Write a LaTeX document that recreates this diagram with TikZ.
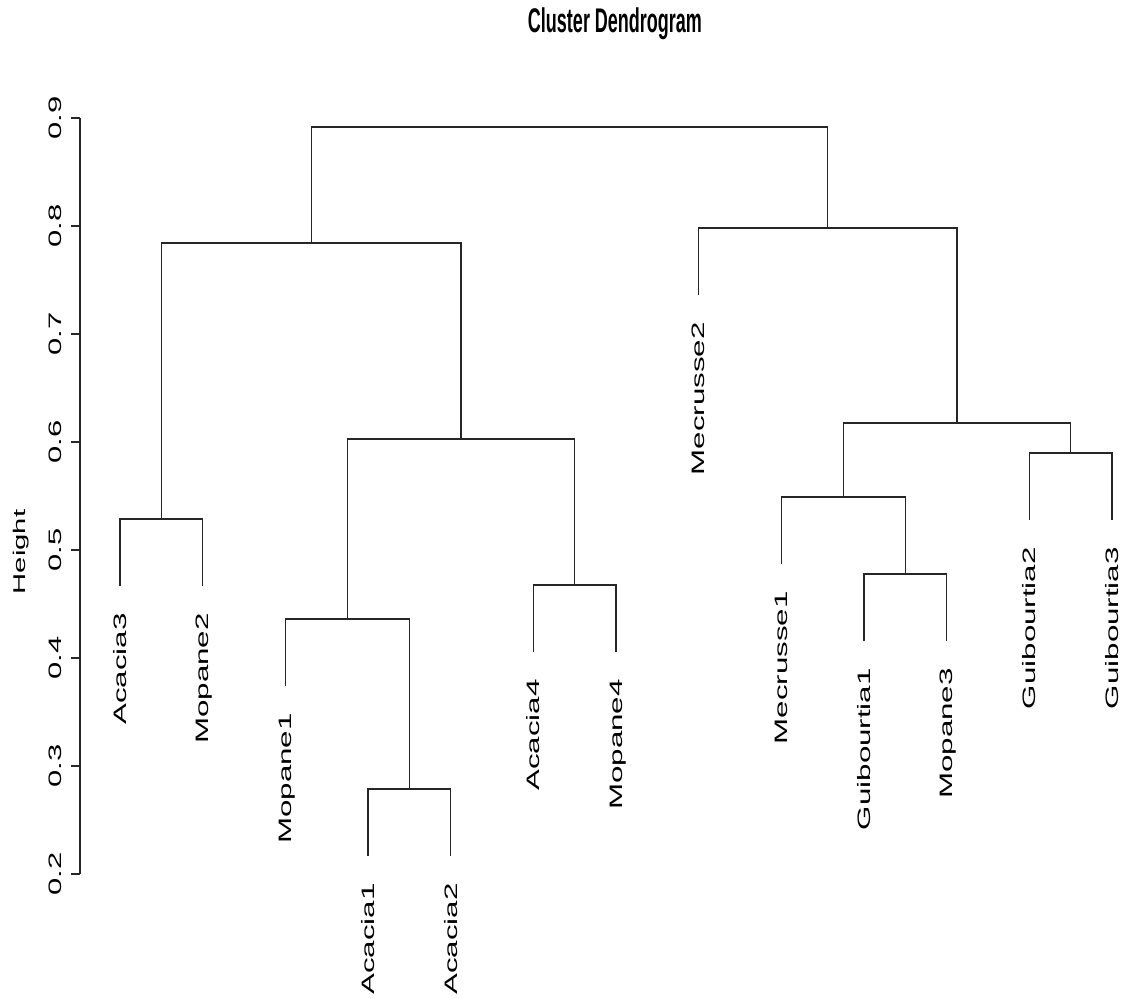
\documentclass[tikz,border=0pt]{standalone}
\usepackage{fontspec}
\setmainfont{Liberation Sans}
\newcommand{\stretchlab}[2]{\rotatebox{90}{\scalebox{#1}[1]{\raisebox{0pt}[\height][0pt]{#2}}}}
\begin{document}
\begin{tikzpicture}[x=1pt,y=-1pt,
  tree/.style={line width=1.3pt,draw=black!85},
  axisline/.style={line width=1.2pt,draw=black!85},
  leaflab/.style={inner sep=0pt,anchor=north,font=\fontsize{18}{20}\selectfont},
  ticklab/.style={inner sep=0pt,anchor=center,font=\fontsize{18}{20}\selectfont},
  ylab/.style={inner sep=0pt,anchor=center,font=\fontsize{17}{20}\selectfont},
  titlelab/.style={inner sep=0pt,anchor=base,font=\fontsize{18}{20}\selectfont\bfseries}]
\useasboundingbox[fill=white] (0,0) rectangle (1126,998);

% title
\node[titlelab] (title) at (615,33) {\scalebox{1}[1.9]{Cluster Dendrogram}};

% y axis
\draw[axisline] (80,118) -- (80,874);
\foreach \k/\v in {0/9,1/8,2/7,3/6,4/5,5/4,6/3,7/2}{
  \pgfmathsetmacro{\yy}{118+108*\k}
  \draw[axisline] (71,\yy) -- (80,\yy);
  \node[ticklab] (tick\v) at (55,\yy) {\stretchlab{1.72}{0.\v}};
}
\node[ylab] (ylabel) at (19,552) {\stretchlab{1.72}{Height}};

% leaves (end points of the hanging branches)
\coordinate (L1) at (120.0,586);
\coordinate (L2) at (202.7,586);
\coordinate (L3) at (285.3,686);
\coordinate (L4) at (368.0,856);
\coordinate (L5) at (450.7,856);
\coordinate (L6) at (533.3,652);
\coordinate (L7) at (616.0,652);
\coordinate (L8) at (698.7,295);
\coordinate (L9) at (781.3,564);
\coordinate (L10) at (864.0,641);
\coordinate (L11) at (946.7,641);
\coordinate (L12) at (1029.3,520);
\coordinate (L13) at (1112.0,520);

% merge points
\coordinate (m1) at (161.3,519);
\coordinate (m2) at (409.3,789);
\coordinate (m3) at (347.3,619);
\coordinate (m4) at (574.7,585);
\coordinate (m5) at (461.0,439);
\coordinate (m6) at (311.2,243);
\coordinate (m7) at (905.3,574);
\coordinate (m8) at (843.3,497);
\coordinate (m9) at (1070.7,453);
\coordinate (m10) at (957.0,423);
\coordinate (m11) at (827.8,228);
\coordinate (m12) at (569.5,127);

% branches
\draw[tree] (L1) |- (m1) -| (L2);
\draw[tree] (L4) |- (m2) -| (L5);
\draw[tree] (L3) |- (m3) -| (m2);
\draw[tree] (L6) |- (m4) -| (L7);
\draw[tree] (m3) |- (m5) -| (m4);
\draw[tree] (m1) |- (m6) -| (m5);
\draw[tree] (L10) |- (m7) -| (L11);
\draw[tree] (L9) |- (m8) -| (m7);
\draw[tree] (L12) |- (m9) -| (L13);
\draw[tree] (m8) |- (m10) -| (m9);
\draw[tree] (L8) |- (m11) -| (m10);
\draw[tree] (m6) |- (m12) -| (m11);

% leaf labels
\node[leaflab] (n1) at ([yshift=-27pt]L1) {\stretchlab{1.74}{Acacia3}};
\node[leaflab] (n2) at ([yshift=-27pt]L2) {\stretchlab{1.74}{Mopane2}};
\node[leaflab] (n3) at ([yshift=-27pt]L3) {\stretchlab{1.74}{Mopane1}};
\node[leaflab] (n4) at ([yshift=-27pt]L4) {\stretchlab{1.74}{Acacia1}};
\node[leaflab] (n5) at ([yshift=-27pt]L5) {\stretchlab{1.74}{Acacia2}};
\node[leaflab] (n6) at ([yshift=-27pt]L6) {\stretchlab{1.74}{Acacia4}};
\node[leaflab] (n7) at ([yshift=-27pt]L7) {\stretchlab{1.74}{Mopane4}};
\node[leaflab] (n8) at ([yshift=-27pt]L8) {\stretchlab{1.74}{Mecrusse2}};
\node[leaflab] (n9) at ([yshift=-27pt]L9) {\stretchlab{1.74}{Mecrusse1}};
\node[leaflab] (n10) at ([yshift=-27pt]L10) {\stretchlab{1.74}{Guibourtia1}};
\node[leaflab] (n11) at ([yshift=-27pt]L11) {\stretchlab{1.74}{Mopane3}};
\node[leaflab] (n12) at ([yshift=-27pt]L12) {\stretchlab{1.74}{Guibourtia2}};
\node[leaflab] (n13) at ([yshift=-27pt]L13) {\stretchlab{1.74}{Guibourtia3}};
\end{tikzpicture}
\end{document}
